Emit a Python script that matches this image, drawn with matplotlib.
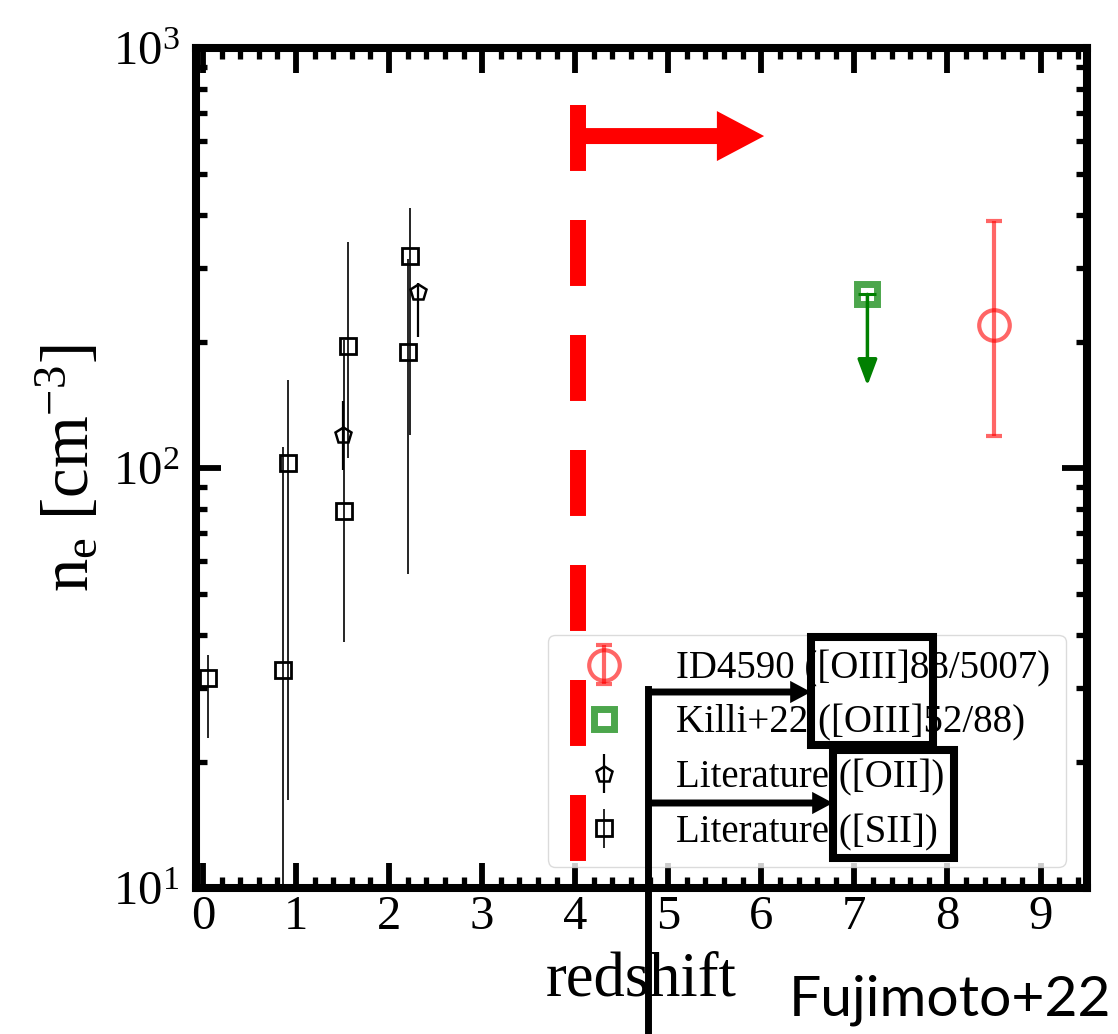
import numpy as np
import matplotlib.pyplot as plt
from matplotlib.patches import FancyArrowPatch, Rectangle, ArrowStyle
from matplotlib.lines import Line2D
from matplotlib.ticker import MultipleLocator, NullFormatter

plt.rcParams['font.family'] = 'Liberation Serif'
plt.rcParams['mathtext.fontset'] = 'custom'
plt.rcParams['mathtext.rm'] = 'Liberation Serif'
plt.rcParams['mathtext.it'] = 'Liberation Serif:italic'

# literature [SII]
sii_z = np.array([0.05, 0.86, 0.91, 1.52, 1.56, 2.20, 2.23])
sii_ne = np.array([31.7, 33.0, 103.0, 79.0, 195.0, 189.0, 320.0])
sii_lo = np.array([22.8, 5.0, 16.2, 38.5, 105.6, 56.0, 120.0])
sii_hi = np.array([35.8, 112.0, 162.0, 202.0, 346.0, 315.0, 415.0])

# literature [OII]
oii_z = np.array([1.50, 2.31])
oii_ne = np.array([120.0, 262.0])
oii_lo = np.array([99.0, 205.0])
oii_hi = np.array([144.0, 275.0])

# Killi+22 upper limit
killi_z = np.array([7.14])
killi_ne = np.array([259.0])
killi_lim = np.array([157.0])

# ID4590
id_z = np.array([8.50])
id_ne = np.array([219.0])
id_lo = np.array([119.0])
id_hi = np.array([388.0])

z_cut = 4.03
labels = ['ID4590 ([OIII]88/5007)', 'Killi+22 ([OIII]52/88)',
          'Literature ([OII])', 'Literature ([SII])']

W, H = 1118, 1034
fig = plt.figure(figsize=(W / 100, H / 100), dpi=100)
ax = fig.add_axes([0.1753, 0.1412, 0.797, 0.8124])

h_sii = ax.errorbar(sii_z, sii_ne, yerr=[sii_ne - sii_lo, sii_hi - sii_ne], fmt='s',
                    ms=11, mfc='none', mec='k', mew=2, color='k', elinewidth=1.2, capsize=0)
h_oii = ax.errorbar(oii_z, oii_ne, yerr=[oii_ne - oii_lo, oii_hi - oii_ne], fmt='p',
                    ms=12, mfc='none', mec='k', mew=1.8, color='k', elinewidth=1.6, capsize=0)

# upper limit arrow + cap
ax.annotate('', xy=(killi_z[0], killi_lim[0]), xytext=(killi_z[0], killi_ne[0]),
            arrowprops=dict(arrowstyle='-|>,head_length=0.72,head_width=0.27', color='green',
                            lw=2.5, mutation_scale=22, shrinkA=0, shrinkB=0))
ax.plot(killi_z, killi_ne, '_', ms=13, mew=2.2, color='green')
h_killi, = ax.plot(killi_z, killi_ne, 's', ms=14.5, mfc='none', mec='green', mew=5, alpha=0.7)

h_id = ax.errorbar(id_z, id_ne, yerr=[id_ne - id_lo, id_hi - id_ne], fmt='o', ms=22,
                   mfc='none', mew=3, color='red', alpha=0.6, elinewidth=3,
                   capsize=5.5, capthick=4)

ax.set_yscale('log')
ax.set_xlim(-0.075, 9.5)
ax.set_ylim(10, 1000)
ax.xaxis.set_major_locator(MultipleLocator(1))
ax.xaxis.set_minor_locator(MultipleLocator(0.2))
ax.yaxis.set_minor_formatter(NullFormatter())

for s in ax.spines.values():
    s.set_linewidth(5.8)
ax.tick_params(which='both', direction='in', top=True, right=True)
ax.tick_params(which='major', length=18, width=4.2, labelsize=35)
ax.tick_params(which='minor', length=8, width=3.8)
ax.tick_params(axis='x', pad=5)
ax.tick_params(axis='y', pad=12)

ax.set_xlabel('redshift', fontsize=45, labelpad=9)
ax.set_ylabel(r'n$_{\rm e}$ [cm$^{-3}$]', fontsize=48, labelpad=8)

leg = ax.legend([h_id, h_killi, h_oii, h_sii], labels, loc='lower right', fontsize=28,
                framealpha=0.8, edgecolor='lightgray', fancybox=True, borderaxespad=0.55,
                labelspacing=0.45, handlelength=2.1, handletextpad=0.8)

# slide overlay: z > 4 marker
ax.plot([z_cut, z_cut], [730, 11.3], color='red', lw=11.5, dashes=(4.13, 3.07), zorder=10)
ax.add_patch(FancyArrowPatch((3.95, 617), (6.03, 617),
                             arrowstyle=ArrowStyle.Simple(head_length=34, head_width=36, tail_width=11.5),
                             mutation_scale=1, color='red', lw=0, shrinkA=0, shrinkB=0, zorder=10))


# slide overlay: black pointers and boxes (figure pixels)
def fx(px):
    return px / W


def fy(py):
    return 1 - py / H


fig.add_artist(Line2D([fx(648), fx(648)], [fy(689), fy(1034)], lw=5, color='k'))
for yy, xend in [(692, 811), (803, 833)]:
    fig.add_artist(FancyArrowPatch((fx(646), fy(yy)), (fx(xend), fy(yy)), transform=fig.transFigure,
                                   arrowstyle=ArrowStyle.Simple(head_length=15, head_width=16, tail_width=5),
                                   mutation_scale=1, color='k', lw=0, shrinkA=0, shrinkB=0))
for x0, y0, x1, y1 in [(811, 637, 933, 745), (833, 750, 954, 858)]:
    fig.add_artist(Rectangle((fx(x0), fy(y1)), (x1 - x0) / W, (y1 - y0) / H, transform=fig.transFigure,
                             fill=False, lw=5.8, ec='k'))

fig.text(fx(1111), fy(1016), 'Fujimoto+22', ha='right', va='baseline', fontsize=41, family='Lato')

fig.savefig('out.png', dpi=100)
